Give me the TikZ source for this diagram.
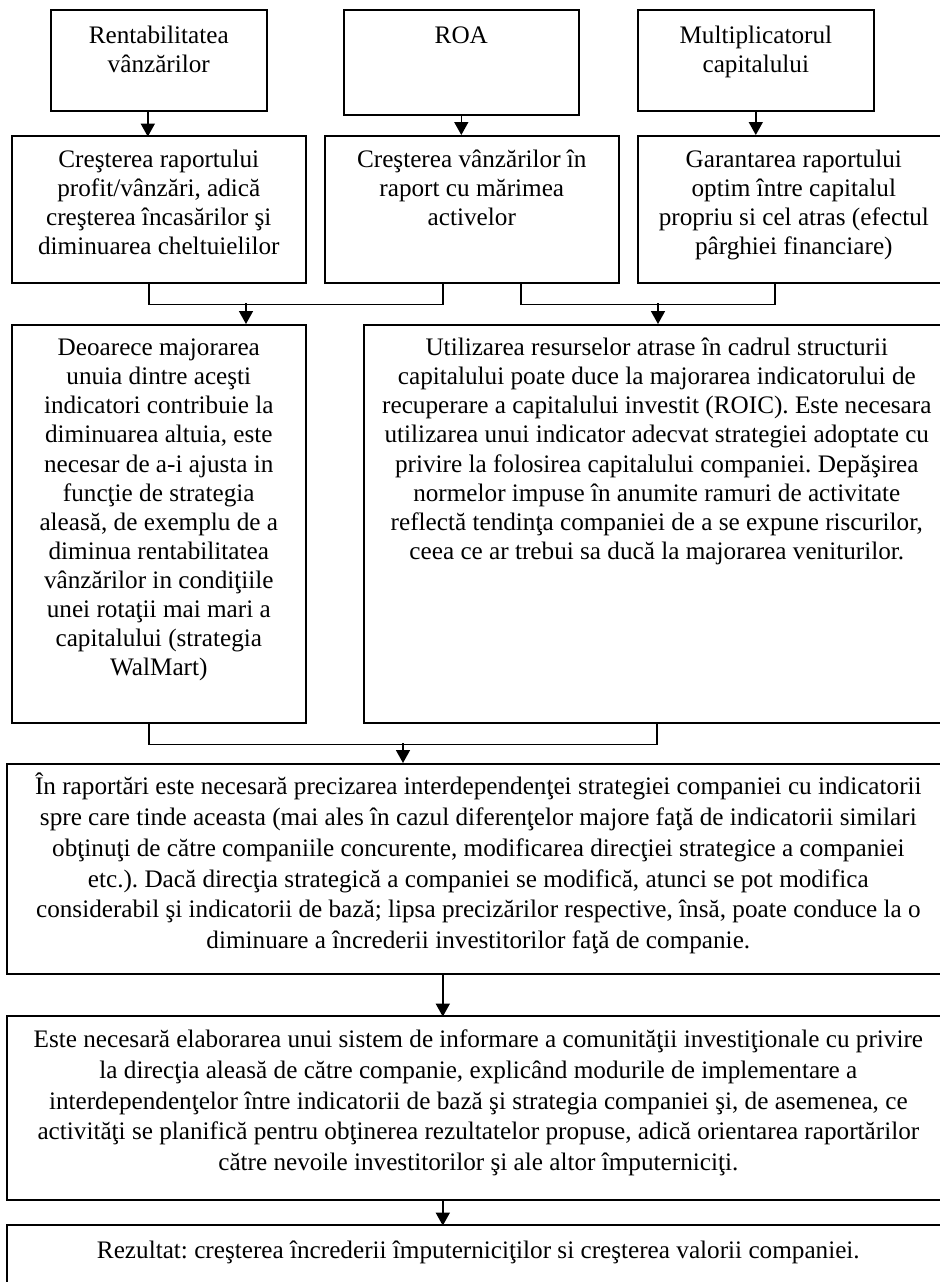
\documentclass[tikz,border=0pt]{standalone}
\usepackage{fontspec}
\setmainfont{Liberation Serif}
\usetikzlibrary{positioning}
\usetikzlibrary{calc}
\usetikzlibrary{arrows.meta}

% box text: width, height, first baseline, lines
\newcommand{\boxtxt}[4]{\parbox[c][#2][t]{#1}{\frenchspacing\centering\rule{0pt}{#3}#4}}

\tikzset{
  blk/.style={draw, line width=0.8pt, inner sep=0pt, anchor=north west},
  wide/.style={blk, font=\fontsize{12.6}{15.4}\selectfont},
  wire/.style={line width=0.8pt},
  arr/.style={wire, -{Triangle[length=6.5pt,width=7pt]}}
}

\begin{document}
\begin{tikzpicture}[x=0.5pt, y=-0.5pt, font=\fontsize{12.6}{14.55}\selectfont]
        \useasboundingbox (0,0) rectangle (940,1282);
        \clip (0,0) rectangle (940,1282);

        % nodes %
        \node[blk] (rent) at (50,9) {\boxtxt{108pt}{50.5pt}{16.9pt}{Rentabilitatea\\vânzărilor}};
        \node[blk] (roa) at (343,9) {\boxtxt{117.5pt}{52.5pt}{16.9pt}{ROA}};
        \node[blk] (mult) at (637,9) {\boxtxt{118pt}{50.5pt}{16.9pt}{Multiplicatorul\\capitalului}};

        \node[blk] (crest) at (11,135) {\boxtxt{147pt}{73.5pt}{15.9pt}{Creşterea raportului\\profit/vânzări, adică\\creşterea încasărilor şi\\diminuarea cheltuielilor}};
        \node[blk] (vanz) at (324,135) {\boxtxt{147pt}{73.5pt}{15.9pt}{Creşterea vânzărilor în\\raport cu mărimea\\activelor}};
        \node[blk] (gar) at (637,135) {\boxtxt{156pt}{73.5pt}{15.9pt}{Garantarea raportului\\optim între capitalul\\propriu si cel atras (efectul\\pârghiei financiare)}};

        \node[blk] (deo) at (11,324) {\boxtxt{147pt}{199pt}{15.4pt}{Deoarece majorarea\\unuia dintre aceşti\\indicatori contribuie la\\diminuarea altuia, este\\necesar de a-i ajusta in\\funcţie de strategia\\aleasă, de exemplu de a\\diminua rentabilitatea\\vânzărilor in condiţiile\\unei rotaţii mai mari a\\capitalului (strategia\\WalMart)}};
        \node[blk] (util) at (363,324) {\boxtxt{293pt}{199pt}{15.4pt}{Utilizarea resurselor atrase în cadrul structurii\\capitalului poate duce la majorarea indicatorului de\\recuperare a capitalului investit (ROIC). Este necesara\\utilizarea unui indicator adecvat strategiei adoptate cu\\privire la folosirea capitalului companiei. Depăşirea\\normelor impuse în anumite ramuri de activitate\\reflectă tendinţa companiei de a se expune riscurilor,\\ceea ce ar trebui sa ducă la majorarea veniturilor.}};

        \node[wide] (rap) at (6,763) {\boxtxt{471.5pt}{105pt}{15.4pt}{În raportări este necesară precizarea interdependenţei strategiei companiei cu indicatorii\\spre care tinde aceasta (mai ales în cazul diferenţelor majore faţă de indicatorii similari\\obţinuţi de către companiile concurente, modificarea direcţiei strategice a companiei\\etc.). Dacă direcţia strategică a companiei se modifică, atunci se pot modifica\\considerabil şi indicatorii de bază; lipsa precizărilor respective, însă, poate conduce la o\\diminuare a încrederii investitorilor faţă de companie.}};
        \node[wide] (este) at (6,1015) {\boxtxt{471.5pt}{92pt}{15.8pt}{Este necesară elaborarea unui sistem de informare a comunităţii investiţionale cu privire\\la direcţia aleasă de către companie, explicând modurile de implementare a\\interdependenţelor între indicatorii de bază şi strategia companiei şi, de asemenea, ce\\activităţi se planifică pentru obţinerea rezultatelor propuse, adică orientarea raportărilor\\către nevoile investitorilor şi ale altor împuterniciţi.}};
        \node[wide] (rez) at (6,1224) {\boxtxt{471.5pt}{50pt}{16.9pt}{Rezultat: creşterea încrederii împuterniciţilor si creşterea valorii companiei.}};

        % edges %
        \draw[arr] ([xshift=-5.5pt]rent.south) -- ++(0,25);
        \draw[arr] (roa.south) -- (roa.south |- vanz.north);
        \draw[arr] (mult.south) -- (mult.south |- gar.north);

        \draw[wire] ([xshift=-5pt]crest.south) -- ++(0,21) -| ([xshift=-14.5pt]vanz.south);
        \coordinate (m1) at (246,303);
        \draw[arr] (m1) -- (m1 |- deo.north);
        \draw[wire] ([xshift=24.5pt]vanz.south) -- ++(0,21) -| ([xshift=-9.5pt]gar.south);
        \coordinate (m2) at (658,303);
        \draw[arr] (m2) -- (m2 |- util.north);

        \draw[wire] ([xshift=-5pt]deo.south) -- ++(0,21) -| (util.south);
        \coordinate (m3) at (403,743);
        \draw[arr] (m3) -- (m3 |- rap.north);

        \draw[arr] ([xshift=-17.75pt]rap.south) -- ++(0,42);
        \draw[arr] ([xshift=-17.75pt]este.south) -- ++(0,25);
\end{tikzpicture}
\end{document}
